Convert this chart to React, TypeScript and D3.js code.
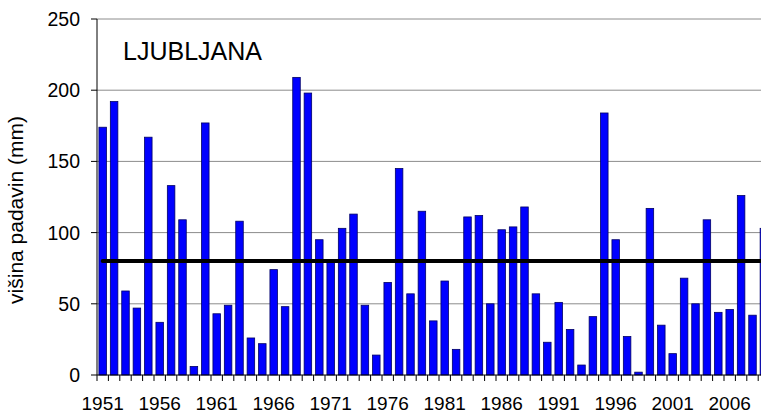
import React from "react";
import * as d3 from "d3";

const years: number[] = d3.range(1951, 2010);
const precip: number[] = [
  174, 192, 59, 47, 167, 37, 133, 109, 6, 177,
  43, 49, 108, 26, 22, 74, 48, 209, 198, 95,
  79, 103, 113, 49, 14, 65, 145, 57, 115, 38,
  66, 18, 111, 112, 50, 102, 104, 118, 57, 23,
  51, 32, 7, 41, 184, 95, 27, 2, 117, 35,
  15, 68, 50, 109, 44, 46, 126, 42, 103,
];
const meanValue = 80;
const yTicks: number[] = [0, 50, 100, 150, 200, 250];
const xLabelYears: number[] = [1951, 1956, 1961, 1966, 1971, 1976, 1981, 1986, 1991, 1996, 2001, 2006];
const title = "LJUBLJANA";
const yTitle = "višina padavin (mm)";

const W = 761;
const H = 414;
const left = 97;
const step = 11.4;
const top = 19;
const bottom = 375;
const font = "Liberation Sans, Arial, sans-serif";

export default function App() {
  const x = d3
    .scaleBand<number>()
    .domain(years)
    .range([left, left + step * years.length])
    .paddingInner(0.34)
    .paddingOuter(0.17);
  const y = d3.scaleLinear().domain([0, 250]).range([bottom, top]);
  const right = left + step * years.length;
  const boundaries = d3.range(years.length + 1).map((i) => left + i * step);
  const line = d3
    .line<number>()
    .x((d) => (x(d) as number) + x.bandwidth() / 2)
    .y(() => y(meanValue));

  return (
    <div style={{ position: "fixed", left: 0, top: 0 }}>
      <svg width={W} height={H} style={{ display: "block", background: "#fff" }}>
        {yTicks.filter((t) => t > 0).map((t) => (
          <line key={"g" + t} x1={left} x2={right} y1={y(t)} y2={y(t)} stroke="#8c8c8c" strokeWidth={1} />
        ))}
        {years.map((yr, i) => (
          <rect
            key={yr}
            x={x(yr)}
            y={y(precip[i])}
            width={x.bandwidth()}
            height={bottom - y(precip[i])}
            fill="#0000ff"
            stroke="#000066"
            strokeWidth={0.8}
          />
        ))}
        <path d={line(years) || ""} stroke="#000" strokeWidth={4} fill="none" strokeLinecap="round" />
        <line x1={left} x2={left} y1={top} y2={bottom} stroke="#000" strokeWidth={1} />
        <line x1={left} x2={right} y1={bottom} y2={bottom} stroke="#000" strokeWidth={1} />
        {yTicks.map((t) => (
          <g key={"yt" + t}>
            <line x1={left - 6} x2={left} y1={y(t)} y2={y(t)} stroke="#000" />
            <text x={80} y={y(t)} dy="0.36em" textAnchor="end" fontFamily={font} fontSize={19.5} fill="#000">
              {t}
            </text>
          </g>
        ))}
        {boundaries.map((bx, i) => (
          <line key={"xt" + i} x1={bx} x2={bx} y1={bottom} y2={bottom + 6} stroke="#000" />
        ))}
        {xLabelYears.map((yr) => (
          <text
            key={"xl" + yr}
            x={(x(yr) as number) + x.bandwidth() / 2}
            y={410}
            textAnchor="middle"
            fontFamily={font}
            fontSize={19}
            fill="#000"
          >
            {yr}
          </text>
        ))}
        <text x={123} y={60} fontFamily={font} fontSize={25} fill="#000">
          {title}
        </text>
        <text
          transform={`translate(23, ${(top + bottom) / 2 + 13}) rotate(-90)`}
          textAnchor="middle"
          fontFamily={font}
          fontSize={21}
          fill="#000"
        >
          {yTitle}
        </text>
      </svg>
    </div>
  );
}
